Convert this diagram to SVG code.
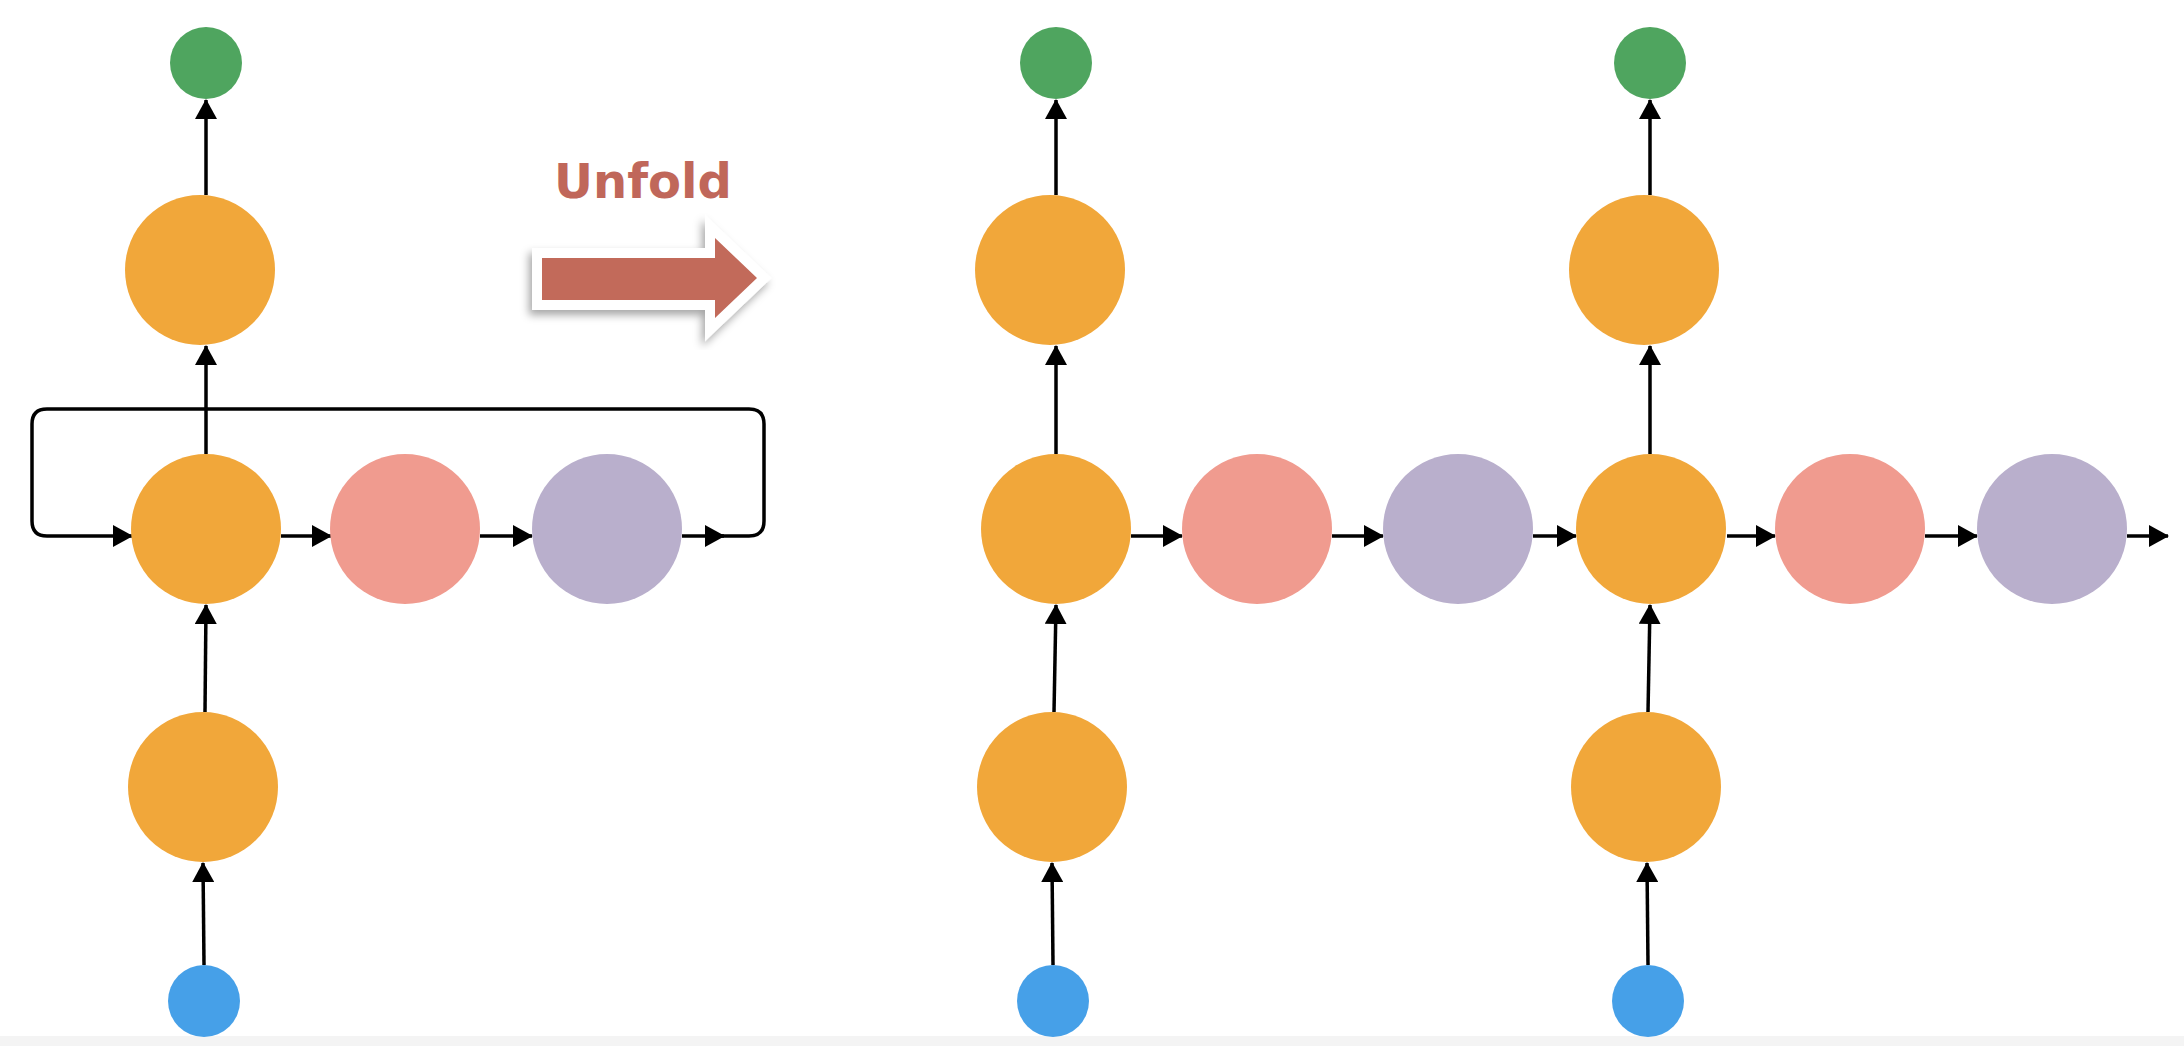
<svg xmlns="http://www.w3.org/2000/svg" width="2184" height="1046" viewBox="0 0 2184 1046">
<style>
circle{stroke:none}
.orange{fill:#F1A73A}
.pink{fill:#F09B8F}
.purple{fill:#B9AFCC}
.green{fill:#4FA55F}
.blue{fill:#46A0E8}
.e{stroke:#000;stroke-width:3.5;fill:none;marker-end:url(#ah)}
.loop{stroke:#000;stroke-width:3.5;fill:none}
.lbl{font-family:"DejaVu Sans",Verdana,sans-serif;font-weight:bold;font-size:48px;fill:#C0675A}
</style>
<defs>
<marker id="ah" markerUnits="userSpaceOnUse" markerWidth="20" markerHeight="22" refX="19" refY="11" orient="auto">
<path d="M0,0 L20,11 L0,22 z" fill="#000"/>
</marker>
<filter id="sh" x="-20%" y="-40%" width="140%" height="180%">
<feDropShadow dx="-3" dy="5" stdDeviation="4" flood-color="#000" flood-opacity="0.35"/>
</filter>
</defs>
<rect x="0" y="0" width="2184" height="1046" fill="#fff"/>
<rect x="0" y="1036" width="2184" height="10" fill="#f4f4f4"/>

<g id="unfold">
<polygon points="542,258 715,258 715,238 757,278 715,318 715,300 542,300" fill="#C26A5A" stroke="#fff" stroke-width="20" stroke-linejoin="miter" filter="url(#sh)"/>
<polygon points="542,258 715,258 715,238 757,278 715,318 715,300 542,300" fill="#C26A5A"/>
<text class="lbl" x="643" y="198" text-anchor="middle">Unfold</text>
</g>

<g id="connectors">
<!-- left folded -->
<line class="e" x1="204" y1="965" x2="203" y2="863"/>
<line class="e" x1="205" y1="712" x2="206" y2="605"/>
<line class="e" x1="206" y1="454" x2="206" y2="346"/>
<line class="e" x1="206" y1="195" x2="206" y2="100"/>
<line class="e" x1="281" y1="536" x2="331" y2="536"/>
<line class="e" x1="480" y1="536" x2="532" y2="536"/>
<line class="e" x1="682" y1="536" x2="724" y2="536"/>
<path class="loop" d="M720,536 L749,536 Q764,536 764,521 L764,424 Q764,409 749,409 L47,409 Q32,409 32,424 L32,521 Q32,536 47,536 L120,536"/>
<line class="e" x1="116" y1="536" x2="132" y2="536"/>
<!-- unroll 1 -->
<line class="e" x1="1053" y1="965" x2="1052" y2="863"/>
<line class="e" x1="1054" y1="712" x2="1056" y2="605"/>
<line class="e" x1="1056" y1="454" x2="1056" y2="346"/>
<line class="e" x1="1056" y1="195" x2="1056" y2="100"/>
<line class="e" x1="1131" y1="536" x2="1182" y2="536"/>
<line class="e" x1="1332" y1="536" x2="1383" y2="536"/>
<line class="e" x1="1533" y1="536" x2="1576" y2="536"/>
<!-- unroll 2 -->
<line class="e" x1="1648" y1="965" x2="1647" y2="863"/>
<line class="e" x1="1648" y1="712" x2="1650" y2="605"/>
<line class="e" x1="1650" y1="454" x2="1650" y2="346"/>
<line class="e" x1="1650" y1="195" x2="1650" y2="100"/>
<line class="e" x1="1727" y1="536" x2="1775" y2="536"/>
<line class="e" x1="1925" y1="536" x2="1977" y2="536"/>
<line class="e" x1="2127" y1="536" x2="2168" y2="536"/>
</g>

<!-- left folded nodes -->
<g id="L_y"><circle class="green" cx="206" cy="63" r="36"/></g>
<g id="L_o"><circle class="orange" cx="200" cy="270" r="75"/></g>
<g id="L_h"><circle class="orange" cx="206" cy="529" r="75"/></g>
<g id="L_p"><circle class="pink" cx="405" cy="529" r="75"/></g>
<g id="L_q"><circle class="purple" cx="607" cy="529" r="75"/></g>
<g id="L_i"><circle class="orange" cx="203" cy="787" r="75"/></g>
<g id="L_x"><circle class="blue" cx="204" cy="1001" r="36"/></g>

<!-- unroll 1 -->
<g id="U1_y"><circle class="green" cx="1056" cy="63" r="36"/></g>
<g id="U1_o"><circle class="orange" cx="1050" cy="270" r="75"/></g>
<g id="U1_h"><circle class="orange" cx="1056" cy="529" r="75"/></g>
<g id="U1_p"><circle class="pink" cx="1257" cy="529" r="75"/></g>
<g id="U1_q"><circle class="purple" cx="1458" cy="529" r="75"/></g>
<g id="U1_i"><circle class="orange" cx="1052" cy="787" r="75"/></g>
<g id="U1_x"><circle class="blue" cx="1053" cy="1001" r="36"/></g>

<!-- unroll 2 -->
<g id="U2_y"><circle class="green" cx="1650" cy="63" r="36"/></g>
<g id="U2_o"><circle class="orange" cx="1644" cy="270" r="75"/></g>
<g id="U2_h"><circle class="orange" cx="1651" cy="529" r="75"/></g>
<g id="U2_p"><circle class="pink" cx="1850" cy="529" r="75"/></g>
<g id="U2_q"><circle class="purple" cx="2052" cy="529" r="75"/></g>
<g id="U2_i"><circle class="orange" cx="1646" cy="787" r="75"/></g>
<g id="U2_x"><circle class="blue" cx="1648" cy="1001" r="36"/></g>
</svg>
